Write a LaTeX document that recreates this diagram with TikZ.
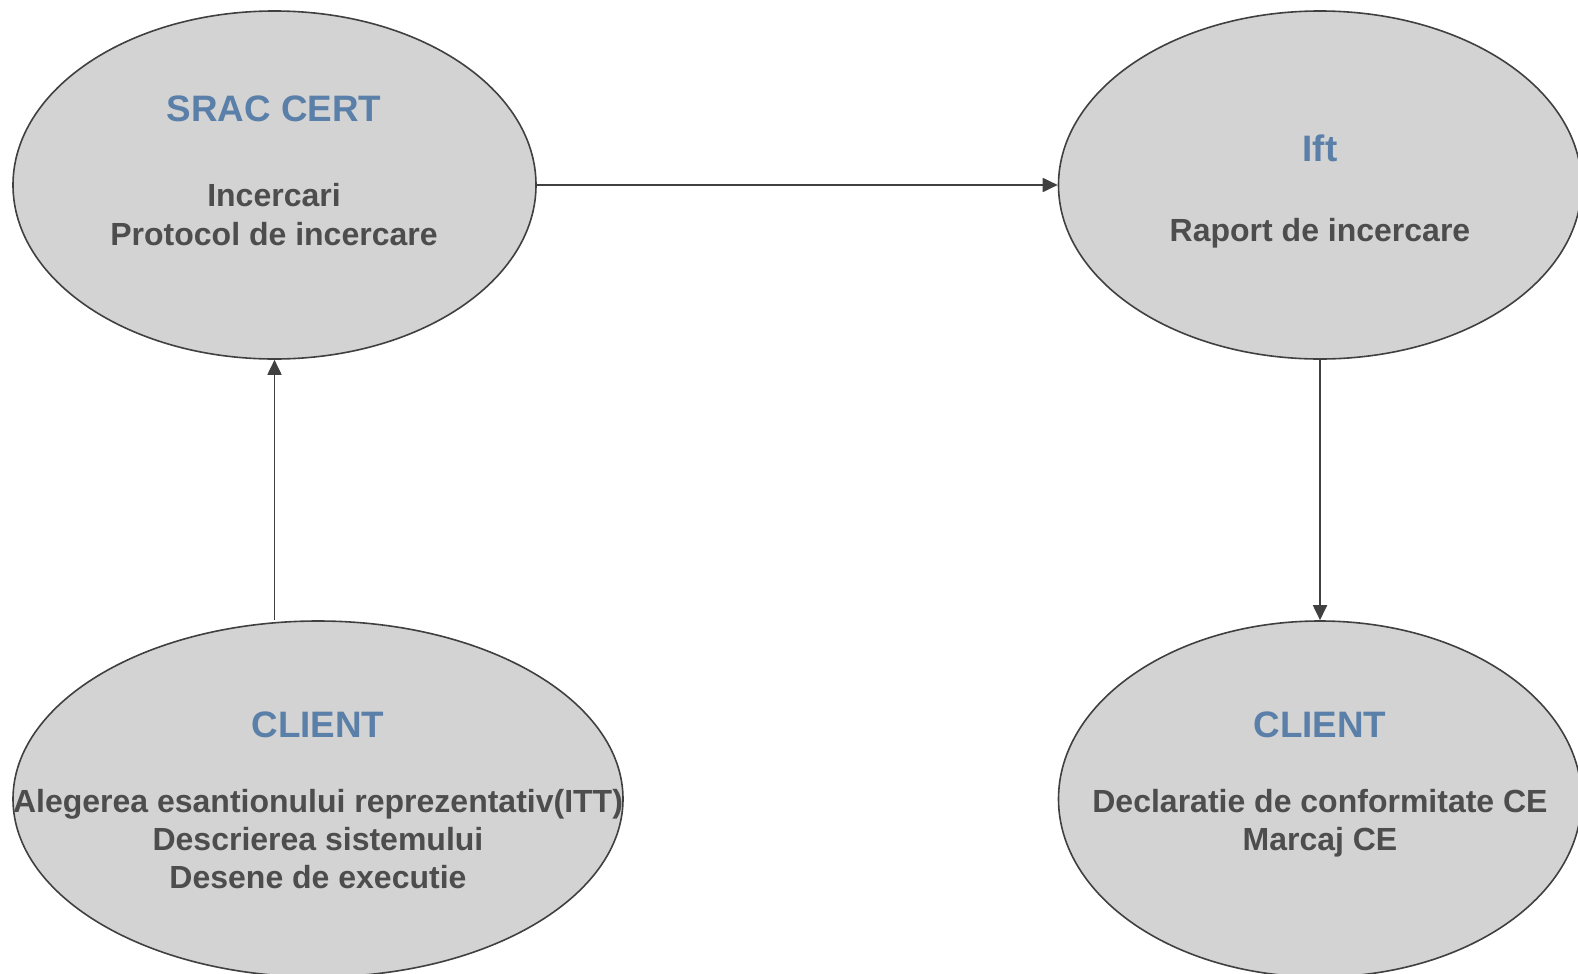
\documentclass[tikz,border=0pt]{standalone}
\usepackage{fontspec}
\setmainfont{Liberation Sans}
\usetikzlibrary{shapes.geometric,arrows.meta}
\definecolor{ellfill}{HTML}{D3D3D3}
\definecolor{edge}{HTML}{404040}
\definecolor{txt}{HTML}{4D4D4D}
\definecolor{ttl}{HTML}{5A7FA8}
\begin{document}
\begin{tikzpicture}[x=1bp,y=-1bp,
  ell/.style={ellipse, draw=edge, fill=ellfill, line width=1.6bp, inner sep=0pt},
  title/.style={anchor=base, text=ttl, font=\fontsize{36.8bp}{40bp}\selectfont\bfseries, inner sep=0pt},
  body/.style={anchor=base, text=txt, font=\fontsize{32bp}{36bp}\selectfont\bfseries, inner sep=0pt},
  conn/.style={draw=edge, line width=1.8bp, -{Triangle[length=15bp,width=14bp]}}]
\begin{scope}
\clip (0,0) rectangle (1578,973);
\node[ell, minimum width=523bp, minimum height=348bp] (sc) at (274.5,185) {};
\node[ell, minimum width=523bp, minimum height=348bp] (ift) at (1320,185) {};
\node[ell, minimum width=610bp, minimum height=356bp] (cl1) at (318,799) {};
\node[ell, minimum width=523bp, minimum height=356bp] (cl2) at (1320,799) {};
\end{scope}
\node[title] (t1) at (274,121) {SRAC CERT};
\node[body] (b1a) at (274,206) {Incercari};
\node[body] (b1b) at (274,245) {Protocol de incercare};
\node[title] (t2) at (1320,161) {Ift};
\node[body] (b2a) at (1320,241) {Raport de incercare};
\node[title] (t3) at (318,737) {CLIENT};
\node[body] (b3a) at (318,812) {Alegerea esantionului reprezentativ(ITT)};
\node[body] (b3b) at (318,850) {Descrierea sistemului};
\node[body] (b3c) at (318,888) {Desene de executie};
\node[title] (t4) at (1320,737) {CLIENT};
\node[body] (b4a) at (1320,812) {Declaratie de conformitate CE};
\node[body] (b4b) at (1320,850) {Marcaj CE};
\draw[conn] (sc.east) -- (ift.west);
\draw[conn] (sc.south |- cl1.north) -- (sc.south);
\draw[conn] (ift.south) -- (cl2.north);
\pgfresetboundingbox
\useasboundingbox (0,0) rectangle (1578,973);
\end{tikzpicture}
\end{document}
